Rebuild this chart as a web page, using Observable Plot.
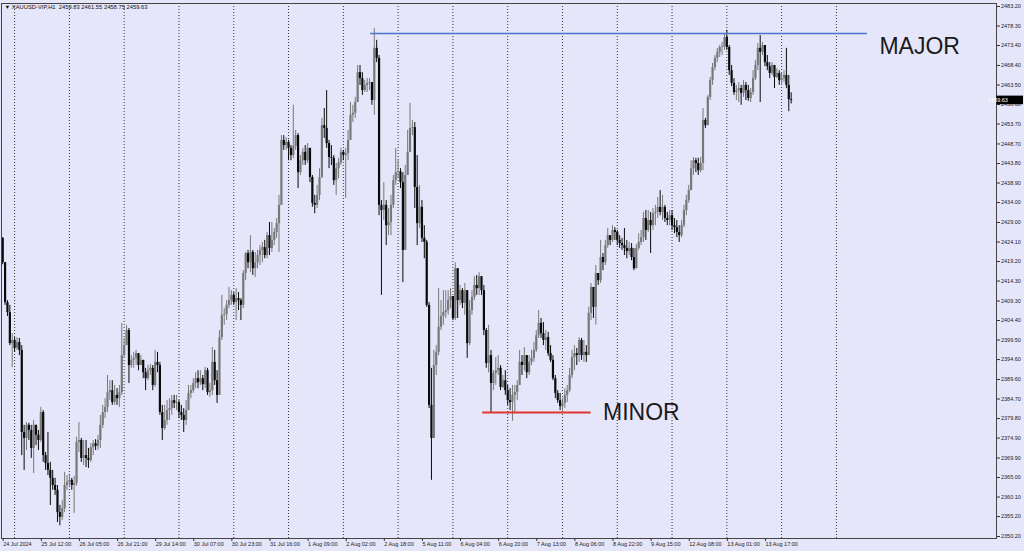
<!DOCTYPE html>
<html><head><meta charset="utf-8">
<script src="https://cdn.jsdelivr.net/npm/d3@7"></script>
<script src="https://cdn.jsdelivr.net/npm/@observablehq/plot@0.6"></script>
<style>
html,body{margin:0;padding:0;background:#e6e6fa;}
#chart{width:1024px;height:551px;overflow:hidden;}
</style></head><body><div id="chart"></div>
<script>
const symbol = "XAUUSD-VIP,H1";
const firstOpen = 2425.0;
const closes = [
2418.9,2408.9,2406.4,2398.6,2399.4,2397.4,2398.9,2396.9,2376.3,2374.8,
2378.1,2376.8,2372.3,2378.1,2375.6,2374.3,2381.3,2370.5,2368.5,2366.8,
2364.8,2363.0,2361.8,2356.2,2355.0,2357.2,2363.0,2363.8,2364.3,2363.0,
2363.5,2373.8,2374.3,2369.8,2370.5,2369.8,2369.3,2372.5,2373.5,2372.8,
2374.3,2378.1,2381.3,2382.6,2386.3,2386.8,2383.8,2385.6,2384.8,2386.3,
2395.6,2398.1,2401.9,2393.1,2394.4,2394.9,2396.1,2393.1,2394.4,2391.3,
2389.8,2391.8,2392.4,2388.1,2393.9,2393.1,2381.3,2377.3,2379.3,2381.8,
2382.3,2384.3,2383.6,2383.8,2381.3,2380.6,2379.3,2381.8,2386.1,2386.8,
2388.6,2389.8,2388.8,2389.8,2388.3,2391.8,2386.3,2386.8,2393.9,2389.3,
2385.6,2400.1,2405.7,2405.9,2408.2,2409.4,2410.7,2408.9,2409.9,2409.4,
2408.2,2416.2,2421.2,2418.9,2421.5,2417.4,2418.9,2420.7,2422.0,2422.7,
2420.7,2425.7,2422.5,2424.5,2426.5,2428.7,2433.3,2449.6,2448.3,2449.1,
2447.6,2445.8,2448.1,2450.8,2441.5,2444.5,2446.6,2444.5,2447.6,2440.3,
2433.8,2433.3,2435.8,2440.3,2453.3,2452.6,2448.8,2445.3,2445.1,2439.5,
2442.5,2444.0,2446.6,2445.8,2446.3,2449.6,2455.9,2456.4,2459.1,2466.6,
2465.1,2462.1,2463.4,2463.9,2464.1,2459.6,2472.7,2470.2,2433.3,2432.0,
2433.3,2428.2,2429.0,2433.3,2439.5,2441.5,2441.7,2439.0,2422.0,2440.8,
2446.6,2452.6,2452.8,2437.8,2428.7,2432.8,2425.0,2424.0,2408.2,2383.1,
2374.8,2393.1,2396.4,2402.7,2405.4,2406.4,2406.9,2409.4,2410.4,2404.9,
2417.4,2409.4,2411.9,2408.7,2411.9,2398.6,2406.9,2410.2,2413.2,2412.4,
2415.4,2411.9,2401.9,2393.6,2395.6,2388.6,2391.1,2391.8,2392.4,2387.6,
2389.3,2386.8,2384.3,2383.8,2385.6,2386.3,2388.1,2393.9,2393.1,2395.6,
2391.3,2393.9,2394.9,2396.9,2400.6,2403.7,2401.1,2399.4,2400.1,2396.1,
2394.4,2389.8,2386.1,2384.3,2382.8,2383.6,2385.6,2386.8,2390.6,2395.1,
2396.1,2395.6,2399.4,2395.6,2396.4,2395.6,2406.2,2412.7,2407.7,2416.2,
2414.4,2420.2,2418.9,2423.2,2425.7,2424.5,2427.0,2426.5,2424.5,2423.7,
2423.2,2422.5,2421.7,2422.5,2420.2,2417.4,2422.5,2424.0,2425.2,2430.0,
2427.0,2429.5,2428.2,2431.2,2431.5,2432.8,2431.5,2432.8,2430.0,2429.5,
2430.7,2428.2,2427.7,2426.5,2425.7,2428.2,2432.0,2434.5,2437.0,2442.5,
2444.5,2443.8,2442.0,2443.8,2454.6,2453.3,2460.4,2464.6,2467.9,2470.2,
2471.7,2472.9,2473.1,2475.4,2472.9,2467.1,2463.9,2461.6,2462.1,2462.6,
2461.4,2463.4,2462.1,2460.1,2461.6,2465.1,2468.4,2472.7,2471.7,2473.4,
2469.1,2468.1,2466.4,2468.4,2465.4,2466.4,2464.6,2465.1,2465.9,2463.4,
2459.83,2459.63
];
const highs = [
2425.2,2418.9,2409.4,2408.2,2401.1,2400.1,2400.1,2399.9,2398.1,2378.1,
2378.8,2378.6,2378.1,2379.3,2377.3,2376.8,2382.6,2381.8,2371.3,2376.3,
2368.8,2366.8,2364.8,2363.0,2358.0,2359.3,2366.3,2365.5,2365.5,2364.8,
2365.3,2375.1,2378.8,2374.8,2374.3,2374.3,2372.3,2373.5,2374.3,2374.5,
2375.6,2380.6,2383.1,2384.8,2390.6,2389.3,2389.3,2388.1,2387.3,2388.1,
2403.7,2399.9,2403.2,2402.4,2395.6,2396.4,2396.9,2396.1,2395.6,2394.4,
2392.4,2393.1,2393.4,2393.1,2396.9,2396.4,2393.9,2383.1,2383.1,2384.3,
2384.8,2385.6,2385.6,2385.6,2384.3,2383.1,2382.3,2384.3,2388.1,2388.1,
2389.8,2391.3,2391.8,2391.8,2390.6,2392.6,2392.4,2388.6,2397.6,2396.9,
2391.8,2401.9,2410.7,2407.4,2409.4,2412.7,2411.9,2411.4,2412.4,2411.4,
2409.9,2416.9,2421.5,2422.0,2425.7,2422.0,2421.5,2422.0,2423.2,2424.0,
2424.5,2426.5,2429.0,2429.0,2427.5,2430.0,2435.8,2450.8,2450.8,2450.3,
2449.6,2448.3,2458.4,2452.1,2451.3,2445.8,2447.6,2448.3,2448.8,2445.1,
2440.8,2435.8,2438.3,2442.5,2455.1,2457.6,2462.1,2449.6,2448.3,2445.8,
2443.8,2445.1,2447.6,2447.1,2447.6,2452.1,2459.1,2458.4,2460.4,2468.4,
2468.4,2466.6,2464.6,2465.1,2465.1,2464.1,2477.7,2474.7,2470.9,2434.5,
2439.0,2434.5,2432.5,2435.8,2440.8,2447.6,2444.5,2442.5,2441.5,2443.3,
2452.1,2458.9,2454.6,2454.1,2445.8,2438.3,2434.5,2428.2,2424.5,2408.9,
2392.4,2396.9,2398.1,2412.4,2409.4,2411.9,2411.9,2411.9,2412.4,2410.4,
2418.9,2416.9,2413.2,2412.4,2413.7,2410.7,2409.4,2411.9,2415.4,2415.7,
2416.4,2415.4,2413.2,2402.4,2403.2,2396.9,2391.8,2395.1,2395.6,2393.1,
2390.6,2391.8,2388.1,2387.3,2388.1,2388.1,2389.3,2396.9,2395.6,2397.6,
2395.6,2395.6,2396.9,2398.9,2401.9,2406.9,2404.9,2403.9,2401.9,2401.4,
2398.1,2395.6,2390.6,2386.8,2386.1,2384.8,2387.3,2388.1,2392.4,2396.9,
2398.1,2397.4,2400.1,2399.9,2399.4,2398.1,2407.7,2413.7,2412.7,2418.2,
2416.2,2424.5,2421.2,2424.5,2427.5,2425.7,2428.2,2427.7,2427.0,2425.7,
2425.0,2427.5,2424.5,2424.0,2423.7,2422.5,2423.5,2426.2,2427.0,2431.5,
2432.0,2432.0,2431.5,2432.5,2433.3,2435.3,2437.0,2435.8,2433.3,2431.5,
2432.0,2432.0,2430.0,2429.5,2428.2,2429.5,2433.3,2435.8,2438.3,2444.5,
2445.3,2445.1,2445.1,2445.3,2457.6,2455.1,2460.9,2465.4,2468.9,2470.9,
2472.7,2473.4,2474.2,2476.4,2477.2,2473.4,2468.4,2465.1,2463.4,2464.1,
2463.4,2464.6,2464.1,2463.4,2462.6,2467.1,2469.6,2473.9,2475.9,2474.2,
2472.7,2470.9,2469.1,2469.1,2468.4,2467.6,2467.1,2466.6,2467.1,2472.7,
2465.9,2461.55
];
const lows = [
2418.4,2408.2,2405.4,2398.1,2392.6,2396.4,2396.9,2395.6,2370.5,2366.8,
2371.8,2374.3,2369.8,2366.0,2373.0,2371.8,2373.8,2368.8,2366.8,2365.5,
2358.0,2361.8,2360.5,2353.7,2352.9,2354.2,2356.2,2361.8,2362.8,2361.8,
2356.0,2362.8,2371.3,2368.8,2368.0,2367.5,2367.3,2368.8,2370.5,2371.8,
2371.8,2372.3,2377.3,2379.8,2381.3,2384.3,2383.1,2383.1,2383.1,2382.6,
2385.6,2394.9,2398.1,2388.6,2392.4,2392.4,2393.1,2391.8,2393.1,2389.8,
2386.8,2389.3,2390.6,2386.8,2387.6,2391.3,2380.6,2374.3,2376.8,2378.1,
2379.3,2380.6,2382.3,2381.8,2379.8,2379.3,2376.3,2378.1,2381.8,2384.8,
2386.1,2387.3,2387.3,2388.1,2386.8,2387.3,2385.6,2385.1,2385.6,2388.1,
2383.6,2385.6,2399.4,2403.2,2404.4,2407.4,2408.2,2408.2,2404.4,2406.9,
2404.4,2407.4,2414.4,2417.4,2416.4,2415.7,2415.2,2417.4,2418.2,2418.9,
2419.9,2419.9,2420.7,2421.5,2423.2,2425.0,2421.5,2433.3,2447.1,2447.1,
2444.5,2444.5,2445.1,2447.1,2437.5,2440.8,2443.3,2443.3,2443.8,2439.0,
2432.8,2431.2,2432.5,2434.5,2440.0,2450.1,2447.6,2442.5,2443.3,2438.3,
2435.8,2440.0,2443.3,2444.5,2435.0,2444.5,2449.6,2454.1,2455.1,2459.1,
2463.4,2460.9,2461.6,2461.6,2462.1,2458.4,2455.9,2469.1,2430.7,2410.7,
2429.5,2423.2,2425.7,2425.7,2432.5,2438.3,2440.0,2437.5,2413.9,2422.0,
2440.8,2447.1,2450.8,2432.5,2423.2,2427.5,2424.0,2419.9,2407.7,2382.3,
2364.3,2374.8,2390.6,2395.6,2401.9,2403.2,2404.9,2405.7,2407.4,2404.4,
2404.4,2404.9,2408.2,2407.4,2405.7,2394.9,2398.1,2405.7,2409.4,2410.7,
2410.7,2410.7,2400.6,2392.4,2391.3,2381.3,2386.8,2388.1,2390.6,2386.8,
2387.3,2385.6,2383.1,2381.8,2379.1,2381.3,2384.3,2388.1,2390.6,2391.8,
2389.8,2390.6,2393.1,2393.9,2396.4,2399.9,2399.9,2398.1,2396.9,2395.4,
2393.9,2389.3,2384.8,2383.6,2381.8,2381.3,2382.3,2383.8,2386.3,2389.8,
2391.8,2393.1,2393.9,2394.4,2393.9,2393.9,2395.6,2404.4,2404.9,2403.2,
2413.2,2413.7,2416.9,2418.2,2422.5,2423.2,2424.0,2424.5,2423.2,2422.5,
2422.0,2420.7,2419.9,2420.7,2419.4,2416.9,2417.4,2422.0,2423.2,2424.0,
2424.5,2426.5,2421.2,2427.0,2428.2,2430.0,2430.7,2429.5,2429.0,2428.2,
2428.2,2427.0,2426.2,2425.2,2424.0,2425.2,2427.7,2430.7,2433.8,2437.0,
2440.8,2441.5,2440.8,2441.5,2442.0,2452.6,2453.3,2459.6,2463.4,2467.1,
2469.1,2470.4,2470.9,2472.2,2472.2,2465.9,2463.1,2460.9,2459.6,2459.1,
2458.4,2460.4,2459.6,2459.4,2459.1,2460.9,2464.6,2467.1,2459.1,2470.9,
2468.1,2467.1,2465.1,2465.9,2462.6,2465.1,2463.4,2463.4,2464.1,2462.6,
2456.8,2458.75
];
// trading days of the H1 series (first day starts 19:00, others 01:00-23:00)
const tradingDays = ["24 Jul","25 Jul","26 Jul","29 Jul","30 Jul","31 Jul","1 Aug","2 Aug","5 Aug","6 Aug","7 Aug","8 Aug","9 Aug","12 Aug","13 Aug","14 Aug","15 Aug"];
const firstHour = 19;
const xTickLabels = ["24 Jul 2024","25 Jul 12:00","26 Jul 05:00","26 Jul 21:00","29 Jul 14:00","30 Jul 07:00","30 Jul 23:00","31 Jul 16:00","1 Aug 09:00","2 Aug 02:00","2 Aug 18:00","5 Aug 11:00","6 Aug 04:00","6 Aug 20:00","7 Aug 13:00","8 Aug 06:00","8 Aug 22:00","9 Aug 15:00","12 Aug 08:00","13 Aug 01:00","13 Aug 17:00"];
const yTicks = [2483.20,2478.30,2473.40,2468.40,2463.50,2458.60,2453.70,2448.70,2443.80,2438.90,2434.00,2429.00,2424.10,2419.20,2414.30,2409.30,2404.40,2399.50,2394.60,2389.60,2384.70,2379.80,2374.90,2369.90,2365.00,2360.10,2355.20,2350.20];
// horizontal levels: name, price, from bar, to bar
const levelNames = ["MAJOR","MINOR"];
const levelPrices = [2476.4, 2381.3];
const levelFrom = [154.5, 201.5];
const levelTo = [363, 247];

// timeline
const timeline = [];
tradingDays.forEach((d, k) => {
  for (let h = (k === 0 ? firstHour : 1); h <= 23; h++) timeline.push({day: d, hour: h, label: `${d} ${String(h).padStart(2,"0")}:00`});
});
const gridIdx = timeline.map((t, i) => t.hour === 1 ? i : null).filter(v => v !== null);
const tickIdx = xTickLabels.map(l => l.includes(":") ? timeline.findIndex(t => t.label === l) : 0);
const tickText = new Map(tickIdx.map((i, k) => [i, xTickLabels[k]]));

const rows = closes.map((c, i) => {
  const o = i === 0 ? firstOpen : closes[i - 1];
  return {i, open: o, close: c, high: Math.max(highs[i], o, c), low: Math.min(lows[i], o, c), up: c >= o};
});
const last = rows[rows.length - 1];
const levels = levelNames.map((n, k) => ({name: n, price: levelPrices[k], x1: levelFrom[k], x2: levelTo[k]}));

const BULL = "#787878", BEAR = "#0a0a0a";
const FONT = "'Liberation Sans', Arial, sans-serif";

const chart = Plot.plot({
  width: 1024, height: 551,
  marginLeft: 1, marginRight: 28, marginTop: 3, marginBottom: 13,
  style: {background: "#e6e6fa", fontFamily: FONT, color: "#1e1e1e", overflow: "visible"},
  x: {domain: [-0.5, 417.2], axis: null},
  y: {domain: [2349.70, 2483.95], axis: null},
  color: {type: "identity"},
  marks: [
    Plot.ruleX(gridIdx, {stroke: "#333", strokeWidth: 1, strokeDasharray: "1,2"}),
    Plot.ruleX(rows, {x: "i", y1: "low", y2: "high", stroke: d => d.up ? BULL : BEAR, strokeWidth: 1}),
    Plot.ruleX(rows, {x: "i", y1: "open", y2: "close", stroke: d => d.up ? BULL : BEAR, strokeWidth: 2.2}),
    Plot.ruleY(levels.filter(d => d.name === "MAJOR"), {y: "price", x1: "x1", x2: "x2", stroke: "#4a72cf", strokeWidth: 1.5}),
    Plot.ruleY(levels.filter(d => d.name === "MINOR"), {y: "price", x1: "x1", x2: "x2", stroke: "#e0352f", strokeWidth: 2}),
    Plot.text(levels.filter(d => d.name === "MAJOR"), {x: "x2", y: "price", text: "name", textAnchor: "start", dx: 12, dy: 13, fontSize: 23, fill: "#1a1a1a"}),
    Plot.text(levels.filter(d => d.name === "MINOR"), {x: "x2", y: "price", text: "name", textAnchor: "start", dx: 12, dy: 0, fontSize: 23, fill: "#1a1a1a"}),
    Plot.text([`\u25BC ${symbol}  ${last.open.toFixed(2)} ${last.high.toFixed(2)} ${last.low.toFixed(2)} ${last.close.toFixed(2)}`],
      {frameAnchor: "top-left", dx: 3, dy: 1.5, textAnchor: "start", lineAnchor: "top", fontSize: 5.8, fill: "#111"}),
    Plot.frame({stroke: "#444"}),
    Plot.axisY(yTicks, {anchor: "right", tickSize: 3, tickPadding: 1.5, tickFormat: d => d.toFixed(2), fontSize: 5.5, fill: "#1a1a1a", stroke: "#333"}),
    Plot.axisX(tickIdx, {anchor: "bottom", tickSize: 3, tickPadding: 1, tickFormat: i => tickText.get(i), textAnchor: "start", dx: 0.5, fontSize: 5.5, fill: "#1a1a1a", stroke: "#333"})
  ]
});
document.getElementById("chart").appendChild(chart);

// last price badge on the right axis
const svg = d3.select(chart);
const yLast = chart.scale("y").apply(last.close);
const g = svg.append("g");
g.append("rect").attr("x", 996.5).attr("y", yLast - 4.3).attr("width", 26.5).attr("height", 8.6).attr("fill", "#000");
g.append("text").attr("x", 998).attr("y", yLast).attr("dy", "0.35em").attr("fill", "#fff")
  .attr("font-size", 5.5).attr("font-family", FONT).text(last.close.toFixed(2));
</script>
</body></html>
